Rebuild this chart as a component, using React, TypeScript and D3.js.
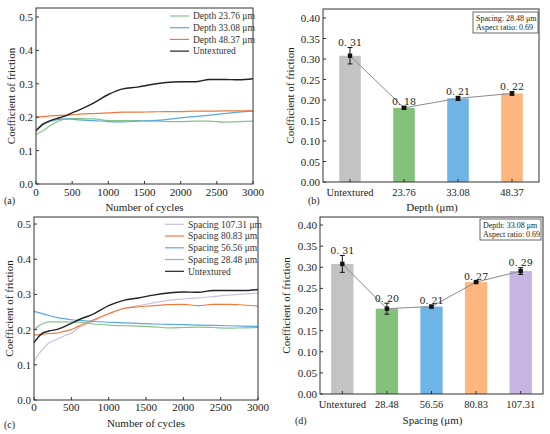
import React from 'react';
import * as d3 from 'd3';

const FONT = "'Liberation Serif', 'Times New Roman', serif";

// ---------- Data ----------
const cycles = [0, 100, 200, 300, 400, 500, 600, 800, 1000, 1200, 1400, 1600, 1800, 2000, 2200, 2400, 2600, 2800, 3000];

// panel (a)
const aDepth2376 = [0.148, 0.16, 0.175, 0.187, 0.194, 0.196, 0.196, 0.195, 0.19, 0.19, 0.19, 0.189, 0.187, 0.187, 0.188, 0.188, 0.185, 0.187, 0.188];
const aDepth3308 = [0.158, 0.178, 0.188, 0.193, 0.195, 0.194, 0.192, 0.19, 0.187, 0.186, 0.188, 0.19, 0.193, 0.198, 0.202, 0.206, 0.211, 0.215, 0.218];
const aDepth4837 = [0.2, 0.202, 0.204, 0.205, 0.206, 0.207, 0.209, 0.211, 0.213, 0.215, 0.215, 0.216, 0.217, 0.217, 0.218, 0.218, 0.219, 0.219, 0.22];
const aUntextured = [0.16, 0.18, 0.19, 0.197, 0.203, 0.213, 0.222, 0.243, 0.268, 0.285, 0.29, 0.298, 0.304, 0.306, 0.306, 0.313, 0.313, 0.312, 0.315];

// panel (c)
const cSpacing10731 = [0.11, 0.14, 0.162, 0.172, 0.182, 0.19, 0.205, 0.225, 0.245, 0.26, 0.268, 0.276, 0.283, 0.287, 0.29, 0.294, 0.298, 0.301, 0.304];
const cSpacing8083 = [0.185, 0.186, 0.189, 0.19, 0.195, 0.2, 0.21, 0.228, 0.245, 0.26, 0.265, 0.268, 0.271, 0.272, 0.268, 0.272, 0.272, 0.27, 0.267];
const cSpacing5656 = [0.252, 0.246, 0.24, 0.235, 0.231, 0.228, 0.226, 0.223, 0.221, 0.219, 0.218, 0.216, 0.215, 0.214, 0.213, 0.212, 0.211, 0.21, 0.209];
const cSpacing2848 = [0.2, 0.215, 0.222, 0.222, 0.222, 0.222, 0.221, 0.216, 0.213, 0.211, 0.21, 0.208, 0.205, 0.206, 0.207, 0.206, 0.204, 0.205, 0.206];
const cUntextured = [0.163, 0.188, 0.196, 0.2, 0.208, 0.218, 0.228, 0.245, 0.268, 0.283, 0.29, 0.298, 0.304, 0.307, 0.306, 0.311, 0.311, 0.311, 0.314];

const cycleTicks = [0, 500, 1000, 1500, 2000, 2500, 3000];
const cofTicks = [0, 0.1, 0.2, 0.3, 0.4, 0.5];

// panel (b)
const bCategories = ['Untextured', '23.76', '33.08', '48.37'];
const bMeans = [0.308, 0.181, 0.204, 0.216];
const bErrors = [0.02, 0.003, 0.005, 0.004];
const bLabels = ['0. 31', '0. 18', '0. 21', '0. 22'];
const bNote = ['Spacing: 28.48 μm', 'Aspect ratio: 0.69'];

// panel (d)
const dCategories = ['Untextured', '28.48', '56.56', '80.83', '107.31'];
const dMeans = [0.308, 0.202, 0.207, 0.265, 0.291];
const dErrors = [0.02, 0.013, 0.003, 0.002, 0.008];
const dLabels = ['0. 31', '0. 20', '0. 21', '0. 27', '0. 29'];
const dNote = ['Depth: 33.08 μm', 'Aspect ratio: 0.69'];

// ---------- Colours ----------
const C_GREEN = '#86c588';
const C_BLUE = '#5aa9dc';
const C_ORANGE = '#ef7a3e';
const C_BLACK = '#222222';
const C_LAV = '#c9c0e4';

const BAR_GRAY = '#c3c3c3';
const BAR_GREEN = '#84c27c';
const BAR_BLUE = '#6fb4e6';
const BAR_ORANGE = '#fdb77e';
const BAR_PURPLE = '#c6b4e3';

type Series = { name: string; values: number[]; color: string; width?: number };

function LinePanel(props: {
  x0: number; x1: number; y0: number; y1: number; yTop: number;
  series: Series[]; drawOrder: number[];
  legendX: number; legendY: number; legendStep: number;
  tag: string; tagX: number; tagY: number;
  titleY: number; tickLabelY: number; yTitleX: number;
}) {
  const { x0, x1, y0, y1, yTop, series, drawOrder } = props;
  const x = d3.scaleLinear().domain([0, 3000]).range([x0, x1]);
  const y = d3.scaleLinear().domain([0, yTop]).range([y1, y0]);
  const line = d3.line<number>()
    .x((_, i) => x(cycles[i]))
    .y((v) => y(v))
    .curve(d3.curveMonotoneX);
  return (
    <g fontFamily={FONT}>
      <defs>
        <clipPath id={'clip' + props.tag}>
          <rect x={x0} y={y0} width={x1 - x0} height={y1 - y0} />
        </clipPath>
      </defs>
      <g clipPath={`url(#clip${props.tag})`}>
        {drawOrder.map((k) => (
          <path key={k} d={line(series[k].values) || ''} fill="none" stroke={series[k].color} strokeWidth={series[k].width ?? 1.2} />
        ))}
      </g>
      <rect x={x0} y={y0} width={x1 - x0} height={y1 - y0} fill="none" stroke="#333" strokeWidth={1} />
      {cycleTicks.map((t) => (
        <g key={'x' + t}>
          <line x1={x(t)} x2={x(t)} y1={y1} y2={y1 - 3} stroke="#333" />
          <text x={x(t)} y={props.tickLabelY} fontSize={11} textAnchor="middle" fill="#222">{t}</text>
        </g>
      ))}
      {cofTicks.map((t) => (
        <g key={'y' + t}>
          <line x1={x0} x2={x0 + 3} y1={y(t)} y2={y(t)} stroke="#333" />
          <text x={x0 - 3} y={y(t) + 4} fontSize={11} textAnchor="end" fill="#222">{d3.format('.1f')(t)}</text>
        </g>
      ))}
      <text x={(x0 + x1) / 2} y={props.titleY} fontSize={11} textAnchor="middle" fill="#222">Number of cycles</text>
      <text transform={`translate(${props.yTitleX},${(y0 + y1) / 2}) rotate(-90)`} fontSize={11} textAnchor="middle" fill="#222">Coefficient of friction</text>
      <text x={props.tagX} y={props.tagY} fontSize={10} fill="#222">{props.tag}</text>
      {series.map((s, i) => (
        <g key={'lg' + i}>
          <line x1={props.legendX} x2={props.legendX + 19} y1={props.legendY + i * props.legendStep} y2={props.legendY + i * props.legendStep} stroke={s.color} strokeWidth={1.2} />
          <text x={props.legendX + 23} y={props.legendY + i * props.legendStep + 3.2} fontSize={9.5} fill="#333">{s.name}</text>
        </g>
      ))}
    </g>
  );
}

function BarPanel(props: {
  x0: number; x1: number; y0: number; y1: number; yTop: number;
  categories: string[]; means: number[]; errors: number[]; labels: string[]; colors: string[];
  padInner: number; padOuter: number;
  note: string[]; noteX0: number; noteX1: number; noteY0: number; noteY1: number;
  xTitle: string; tag: string; tagX: number; tagY: number; titleY: number; catY: number; yTitleX: number;
}) {
  const { x0, x1, y0, y1, yTop } = props;
  const x = d3.scaleBand<string>().domain(props.categories).range([x0, x1]).paddingInner(props.padInner).paddingOuter(props.padOuter);
  const y = d3.scaleLinear().domain([0, yTop]).range([y1, y0]);
  const ticks = d3.range(0, 0.4001, 0.05);
  const cx = (c: string) => (x(c) as number) + x.bandwidth() / 2;
  const pts = props.categories.map((c, i) => [cx(c), y(props.means[i])] as [number, number]);
  return (
    <g fontFamily={FONT}>
      {props.categories.map((c, i) => (
        <rect key={c} x={x(c)} y={y(props.means[i])} width={x.bandwidth()} height={y1 - y(props.means[i])} fill={props.colors[i]} />
      ))}
      <path d={d3.line()(pts) || ''} fill="none" stroke="#8a8a8a" strokeWidth={1} />
      {props.categories.map((c, i) => {
        const m = props.means[i], e = props.errors[i];
        return (
          <g key={'e' + c}>
            <line x1={cx(c)} x2={cx(c)} y1={y(m - e)} y2={y(m + e)} stroke="#111" strokeWidth={1} />
            <line x1={cx(c) - 2.5} x2={cx(c) + 2.5} y1={y(m - e)} y2={y(m - e)} stroke="#111" strokeWidth={1} />
            <line x1={cx(c) - 2.5} x2={cx(c) + 2.5} y1={y(m + e)} y2={y(m + e)} stroke="#111" strokeWidth={1} />
            <rect x={cx(c) - 2.2} y={y(m) - 2.2} width={4.4} height={4.4} fill="#111" />
            <text x={cx(c)} y={y(m + e) - 1.5} textAnchor="middle" fill="#222" fontFamily="'DejaVu Serif', serif" style={{ fontSize: 9.5 }}>{props.labels[i]}</text>
            <line x1={cx(c)} x2={cx(c)} y1={y1} y2={y1 - 3} stroke="#333" />
            <text x={cx(c)} y={props.catY} fontSize={10.5} textAnchor="middle" fill="#222">{c}</text>
          </g>
        );
      })}
      <rect x={x0} y={y0} width={x1 - x0} height={y1 - y0} fill="none" stroke="#333" strokeWidth={1} />
      {ticks.map((t) => (
        <g key={'y' + t}>
          <line x1={x0} x2={x0 + 3} y1={y(t)} y2={y(t)} stroke="#333" />
          <text x={x0 - 3} y={y(t) + 4} fontSize={11} textAnchor="end" fill="#222">{d3.format('.2f')(t)}</text>
        </g>
      ))}
      <rect x={props.noteX0} y={props.noteY0} width={props.noteX1 - props.noteX0} height={props.noteY1 - props.noteY0} fill="#fff" stroke="#444" strokeWidth={0.8} />
      {props.note.map((n, i) => (
        <text key={n} x={props.noteX0 + 3} y={props.noteY0 + 8.5 + i * 9.5} fontSize={8} fill="#222">{n}</text>
      ))}
      <text x={(x0 + x1) / 2 + 1} y={props.titleY} fontSize={11} textAnchor="middle" fill="#222">{props.xTitle}</text>
      <text transform={`translate(${props.yTitleX},${(y0 + y1) / 2}) rotate(-90)`} fontSize={11} textAnchor="middle" fill="#222">Coefficient of friction</text>
      <text x={props.tagX} y={props.tagY} fontSize={10} fill="#222">{props.tag}</text>
    </g>
  );
}

export default function App() {
  const aSeries: Series[] = [
    { name: 'Depth 23.76 μm', values: aDepth2376, color: C_GREEN },
    { name: 'Depth 33.08 μm', values: aDepth3308, color: C_BLUE },
    { name: 'Depth 48.37 μm', values: aDepth4837, color: C_ORANGE },
    { name: 'Untextured', values: aUntextured, color: C_BLACK, width: 1.4 },
  ];
  const cSeries: Series[] = [
    { name: 'Spacing 107.31 μm', values: cSpacing10731, color: C_LAV },
    { name: 'Spacing 80.83 μm', values: cSpacing8083, color: C_ORANGE },
    { name: 'Spacing 56.56 μm', values: cSpacing5656, color: C_BLUE },
    { name: 'Spacing 28.48 μm', values: cSpacing2848, color: C_GREEN },
    { name: 'Untextured', values: cUntextured, color: C_BLACK, width: 1.4 },
  ];
  return (
    <svg width={550} height={434} style={{ position: 'absolute', left: 0, top: 0, background: '#fff' }}>
      <rect x={0} y={0} width={550} height={434} fill="#fff" />
      <LinePanel x0={36} x1={253} y0={8} y1={184} yTop={0.527} series={aSeries} drawOrder={[0, 1, 2, 3]}
        legendX={170} legendY={16} legendStep={11.7} tag="(a)" tagX={4} tagY={204} titleY={211} tickLabelY={196} yTitleX={15} />
      <BarPanel x0={323} x1={539} y0={9} y1={182} yTop={0.422}
        categories={bCategories} means={bMeans} errors={bErrors} labels={bLabels}
        colors={[BAR_GRAY, BAR_GREEN, BAR_BLUE, BAR_ORANGE]} padInner={0.6} padOuter={0.3}
        note={bNote} noteX0={473} noteX1={538} noteY0={12} noteY1={33}
        xTitle="Depth (μm)" tag="(b)" tagX={308} tagY={204} titleY={211} catY={196} yTitleX={294} />
      <LinePanel x0={34} x1={258} y0={217} y1={400} yTop={0.52} series={cSeries} drawOrder={[0, 1, 2, 3, 4]}
        legendX={165} legendY={224.3} legendStep={11.75} tag="(c)" tagX={4} tagY={428} titleY={427} tickLabelY={411} yTitleX={13} />
      <BarPanel x0={320} x1={543} y0={217} y1={394} yTop={0.419}
        categories={dCategories} means={dMeans} errors={dErrors} labels={dLabels}
        colors={[BAR_GRAY, BAR_GREEN, BAR_BLUE, BAR_ORANGE, BAR_PURPLE]} padInner={0.5} padOuter={0.25}
        note={dNote} noteX0={480} noteX1={541} noteY0={219} noteY1={240}
        xTitle="Spacing (μm)" tag="(d)" tagX={295} tagY={424} titleY={424} catY={408} yTitleX={290} />
    </svg>
  );
}
